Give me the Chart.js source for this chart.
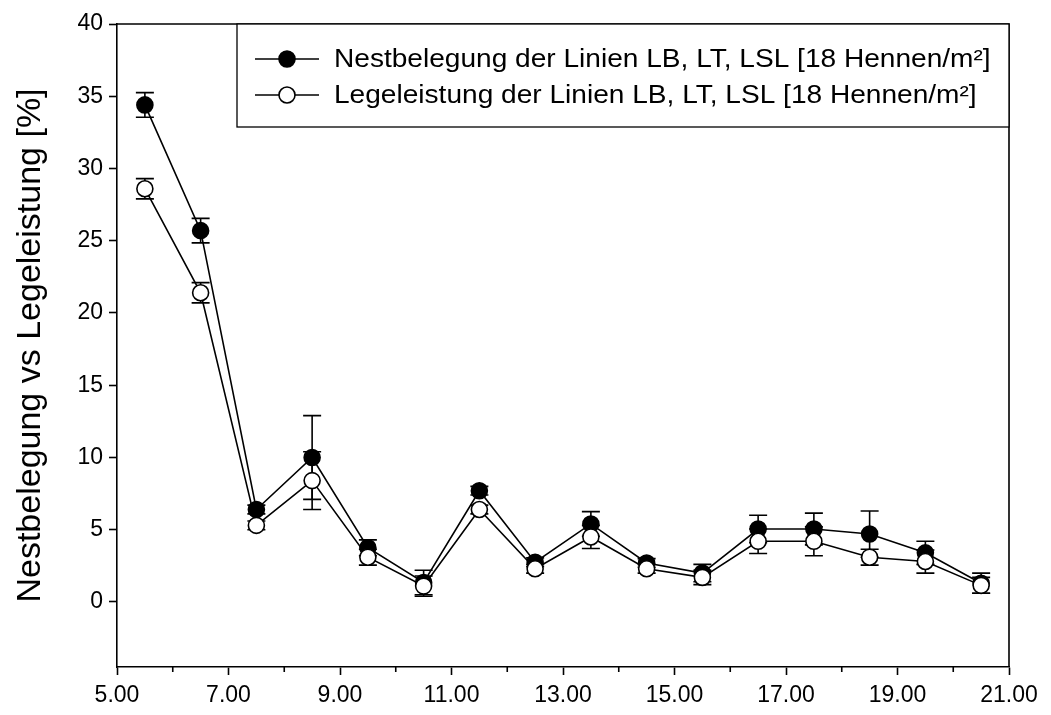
<!DOCTYPE html>
<html>
<head>
<meta charset="utf-8">
<script src="https://cdn.jsdelivr.net/npm/chart.js@4.4.0/dist/chart.umd.min.js"></script>
<style>
  html, body { margin: 0; padding: 0; background: #fff; }
</style>
</head>
<body>
<canvas id="nestChart" width="1051" height="715"></canvas>
<script>
// time of day (h) for each reading
const hours = [5.5, 6.5, 7.5, 8.5, 9.5, 10.5, 11.5, 12.5, 13.5, 14.5, 15.5, 16.5, 17.5, 18.5, 19.5, 20.5];

// nest occupancy (filled circles)
const nestValues = [34.4, 25.7, 6.4, 10.0, 3.75, 1.35, 7.7, 2.75, 5.4, 2.7, 2.0, 5.05, 5.05, 4.7, 3.4, 1.3];
const nestErrors = [0.85, 0.85, 0.3, 2.9, 0.55, 0.85, 0.3, 0.3, 0.85, 0.3, 0.6, 0.95, 1.1, 1.6, 0.8, 0.7];

// laying performance (open circles)
const layValues = [28.6, 21.4, 5.3, 8.4, 3.1, 1.1, 6.4, 2.3, 4.5, 2.3, 1.7, 4.2, 4.2, 3.1, 2.8, 1.15];
const layErrors = [0.7, 0.7, 0.3, 2.0, 0.55, 0.7, 0.3, 0.3, 0.8, 0.3, 0.5, 0.85, 1.0, 0.55, 0.8, 0.55];

const seriesLabels = [
    "Nestbelegung der Linien LB, LT, LSL [18 Hennen/m²]",
    "Legeleistung der Linien LB, LT, LSL [18 Hennen/m²]"
];

const xTicks = [5, 7, 9, 11, 13, 15, 17, 19, 21];
const xMinorTicks = [6, 8, 10, 12, 14, 16, 18, 20];
const yTicks = [0, 5, 10, 15, 20, 25, 30, 35, 40];
const yTitle = "Nestbelegung vs Legeleistung [%]";

const FONT = "'Liberation Sans', Arial, sans-serif";

function toPoints(values) {
    return hours.map((h, i) => ({ x: h, y: values[i] }));
}

// symmetric error bars, drawn right before their own dataset
const errorBars = {
    id: "errorBars",
    beforeDatasetDraw(chart, args) {
        const ds = chart.data.datasets[args.index];
        if (!ds.errorValues) return;
        const { ctx, scales: { x, y } } = chart;
        ctx.save();
        ctx.strokeStyle = "#000";
        ctx.lineWidth = 1.6;
        ds.data.forEach((p, i) => {
            const e = ds.errorValues[i];
            const px = x.getPixelForValue(p.x);
            const top = y.getPixelForValue(p.y + e);
            const bot = y.getPixelForValue(p.y - e);
            ctx.beginPath();
            ctx.moveTo(px, top);
            ctx.lineTo(px, bot);
            ctx.moveTo(px - 9, top);
            ctx.lineTo(px + 9, top);
            ctx.moveTo(px - 9, bot);
            ctx.lineTo(px + 9, bot);
            ctx.stroke();
        });
        ctx.restore();
    }
};

// box frame, minor ticks, y title and boxed legend
const frame = {
    id: "frame",
    afterDraw(chart) {
        const { ctx, chartArea: a, scales: { x } } = chart;
        ctx.save();
        ctx.strokeStyle = "#000";
        ctx.lineWidth = 1.6;
        ctx.beginPath();
        ctx.moveTo(a.left, a.top);
        ctx.lineTo(a.right, a.top);
        ctx.lineTo(a.right, a.bottom);
        ctx.stroke();

        ctx.beginPath();
        xMinorTicks.forEach(v => {
            const px = x.getPixelForValue(v);
            ctx.moveTo(px, a.bottom);
            ctx.lineTo(px, a.bottom + 5);
        });
        ctx.stroke();

        // y axis title
        ctx.fillStyle = "#000";
        ctx.font = "34px " + FONT;
        ctx.textAlign = "center";
        ctx.textBaseline = "alphabetic";
        ctx.translate(40, (a.top + a.bottom) / 2);
        ctx.rotate(-Math.PI / 2);
        ctx.fillText(yTitle, 0, 0);
        ctx.restore();

        // legend
        ctx.save();
        const bx = 237, by = a.top, bw = a.right - bx, bh = 103;
        ctx.fillStyle = "#fff";
        ctx.fillRect(bx, by, bw, bh);
        ctx.strokeStyle = "#000";
        ctx.lineWidth = 1.3;
        ctx.strokeRect(bx, by, bw, bh);
        const rows = [by + 35, by + 71];
        chart.data.datasets.forEach((ds, i) => {
            const ry = rows[i];
            ctx.lineWidth = 1.6;
            ctx.strokeStyle = "#000";
            ctx.beginPath();
            ctx.moveTo(255, ry);
            ctx.lineTo(319, ry);
            ctx.stroke();
            ctx.beginPath();
            ctx.arc(287, ry, 8, 0, Math.PI * 2);
            ctx.fillStyle = ds.pointBackgroundColor;
            ctx.fill();
            ctx.stroke();
            ctx.save();
            ctx.fillStyle = "#000";
            ctx.font = "26px " + FONT;
            ctx.textAlign = "left";
            ctx.textBaseline = "middle";
            ctx.translate(334, ry + 1);
            ctx.scale(1.08, 1);
            ctx.fillText(ds.label, 0, 0);
            ctx.restore();
        });
        ctx.restore();
    }
};

new Chart(document.getElementById("nestChart"), {
    type: "line",
    data: {
        datasets: [
            {
                label: seriesLabels[0],
                data: toPoints(nestValues),
                errorValues: nestErrors,
                borderColor: "#000",
                borderWidth: 1.6,
                pointRadius: 8,
                pointBorderWidth: 1.6,
                pointBorderColor: "#000",
                pointBackgroundColor: "#000",
                order: 2
            },
            {
                label: seriesLabels[1],
                data: toPoints(layValues),
                errorValues: layErrors,
                borderColor: "#000",
                borderWidth: 1.6,
                pointRadius: 8,
                pointBorderWidth: 1.6,
                pointBorderColor: "#000",
                pointBackgroundColor: "#fff",
                order: 1
            }
        ]
    },
    options: {
        responsive: false,
        animation: false,
        devicePixelRatio: 1,
        layout: { padding: { top: 24, right: 42, bottom: 0, left: 0 } },
        plugins: { legend: { display: false }, tooltip: { enabled: false } },
        scales: {
            x: {
                type: "linear",
                min: 5,
                max: 21,
                afterBuildTicks: s => { s.ticks = xTicks.map(v => ({ value: v })); },
                afterFit: s => { s.height = 48; },
                grid: { drawOnChartArea: false, tickLength: 8, tickWidth: 1.6, tickColor: "#000" },
                border: { color: "#000", width: 1.6 },
                ticks: {
                    autoSkip: false,
                    maxRotation: 0,
                    padding: 7,
                    color: "#000",
                    font: { family: FONT, size: 23 },
                    callback: v => Number(v).toFixed(2)
                }
            },
            y: {
                min: -4.5,
                max: 40,
                afterBuildTicks: s => { s.ticks = yTicks.map(v => ({ value: v })); },
                afterFit: s => { s.width = 117; },
                grid: { drawOnChartArea: false, tickLength: 8, tickWidth: 1.6, tickColor: "#000" },
                border: { color: "#000", width: 1.6 },
                ticks: {
                    padding: 6,
                    color: "#000",
                    font: { family: FONT, size: 23 }
                }
            }
        }
    },
    plugins: [errorBars, frame]
});
</script>
</body>
</html>
